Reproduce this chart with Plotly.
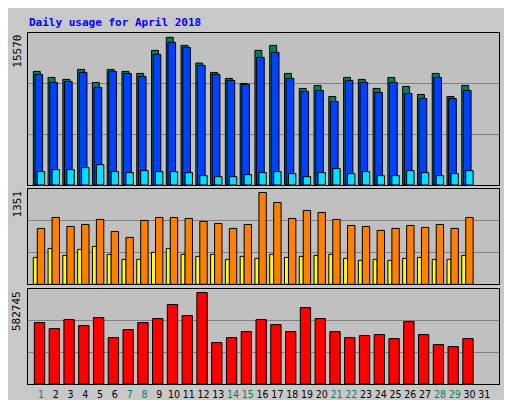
import plotly.graph_objects as go

days = list(range(1, 32))
weekend = [1, 7, 8, 14, 15, 21, 22, 28, 29]

# usage values per day (April has 30 days)
hits = [11635, 11019, 10814, 11840, 10506, 11840, 11635, 11430, 13791, 15125,
        14304, 12490, 11532, 10916, 10403, 13791, 14304, 11430, 9890, 10198,
        9068, 11019, 10814, 9890, 11019, 10095, 9274, 11430, 9068, 10198]
files = [11327, 10506, 10608, 11532, 9992, 11635, 11430, 11122, 13380, 14612,
         14099, 12251, 11327, 10711, 10300, 13072, 13585, 10916, 9582, 9684,
         8555, 10711, 10506, 9479, 10506, 9376, 8863, 11019, 8863, 9684]
pages = [1369, 1574, 1574, 1779, 2087, 1369, 1266, 1471, 1369, 1369,
         1266, 958, 856, 856, 1061, 1266, 1369, 1163, 856, 1266,
         1677, 1163, 1369, 958, 958, 1471, 1266, 958, 1163, 1471]
sites = [791, 946, 819, 847, 918, 748, 664, 904, 946, 946,
         932, 890, 861, 791, 847, 1299, 1158, 932, 1045, 1017,
         918, 833, 819, 763, 791, 833, 805, 847, 791, 946]
visits = [381, 508, 410, 494, 537, 424, 353, 353, 452, 508,
          424, 395, 424, 353, 395, 367, 424, 381, 395, 410,
          424, 367, 339, 353, 339, 367, 381, 353, 353, 410]
kbytes = [376225, 339420, 394627, 357822, 406895, 284213, 333286, 376225, 400761, 486639,
          419163, 560248, 253542, 284213, 321018, 394627, 363953, 321018, 468236, 400761,
          321018, 284213, 296482, 302616, 278079, 382354, 302616, 241275, 229006, 278079]

max_hits = 15570
max_sites = 1351
max_kbytes = 582745

x = days[:30]
line = dict(color="black", width=1)

fig = go.Figure()
fig.add_bar(x=x, y=hits, offset=-0.52, width=0.47, marker=dict(color="#00805C", line=line), yaxis="y")
fig.add_bar(x=x, y=files, offset=-0.41, width=0.52, marker=dict(color="#0040FF", line=line), yaxis="y")
fig.add_bar(x=x, y=pages, offset=-0.25, width=0.5, marker=dict(color="#00E0FF", line=line), yaxis="y")
fig.add_bar(x=x, y=visits, offset=-0.52, width=0.27, marker=dict(color="#FFFF00", line=line), xaxis="x2", yaxis="y2")
fig.add_bar(x=x, y=sites, offset=-0.25, width=0.5, marker=dict(color="#FF8000", line=line), xaxis="x2", yaxis="y2")
fig.add_bar(x=x, y=kbytes, offset=-0.45, width=0.7, marker=dict(color="#FF0000", line=line), xaxis="x3", yaxis="y3")

ticktext = [f'<span style="color:#00805C">{d}</span>' if d in weekend else str(d) for d in days]
xcommon = dict(range=[0.12, 32.0], showgrid=False, zeroline=False, showline=True, automargin=False,
               linecolor="black", mirror=True, ticks="")
ycommon = dict(showline=True, linecolor="black", mirror=True, zeroline=False, automargin=False,
               gridcolor="#808080", gridwidth=1, showticklabels=False, ticks="")

fig.update_layout(
    width=512, height=400, margin=dict(l=20, r=21, t=25, b=24),
    paper_bgcolor="#C8C8C8", plot_bgcolor="#C0C0C0",
    barmode="overlay", showlegend=False,
    font=dict(family="DejaVu Sans Mono", size=11, color="black"),
    xaxis=dict(xcommon, anchor="y", showticklabels=False),
    xaxis2=dict(xcommon, anchor="y2", showticklabels=False),
    xaxis3=dict(xcommon, anchor="y3", tickvals=days, ticktext=ticktext, tickangle=0,
                tickfont=dict(family="DejaVu Sans Condensed", size=10.5)),
    yaxis=dict(ycommon, domain=[0.567, 1], range=[0, max_hits], tickvals=[max_hits / 3, 2 * max_hits / 3]),
    yaxis2=dict(ycommon, domain=[0.284, 0.556], range=[0, max_sites], tickvals=[max_sites / 3, 2 * max_sites / 3]),
    yaxis3=dict(ycommon, domain=[0, 0.271], range=[0, max_kbytes], tickvals=[max_kbytes / 3, 2 * max_kbytes / 3]),
)

fig.add_annotation(text="<b>Daily usage for April 2018</b>", xref="paper", yref="paper", x=-0.002, y=1.031,
                   xanchor="left", yanchor="middle", showarrow=False, font=dict(color="#0000FF", size=11))
for label, yr in [(str(max_hits), "y domain"), (str(max_sites), "y2 domain"), (str(max_kbytes), "y3 domain")]:
    fig.add_annotation(text=label, xref="paper", yref=yr, x=-0.005, y=1, xanchor="right", yanchor="top",
                       textangle=-90, showarrow=False, font=dict(size=11))
fig.add_annotation(text='<span style="color:#00E0FF">Pages</span> / <span style="color:#0040FF">Files</span> / '
                        '<span style="color:#00805C">Hits</span>',
                   xref="paper", yref="y domain", x=1.005, y=1, xanchor="left", yanchor="top",
                   textangle=-90, showarrow=False, font=dict(size=11))
fig.add_annotation(text='<span style="color:#FF8000">Sites</span> / <span style="color:#FFFF00">Visits</span>',
                   xref="paper", yref="y2 domain", x=1.005, y=1, xanchor="left", yanchor="top",
                   textangle=-90, showarrow=False, font=dict(size=11))
fig.add_annotation(text='<span style="color:#FF0000">KBytes</span>',
                   xref="paper", yref="y3 domain", x=1.005, y=0, xanchor="left", yanchor="bottom",
                   textangle=-90, showarrow=False, font=dict(size=11))

fig.write_html("out.html")
